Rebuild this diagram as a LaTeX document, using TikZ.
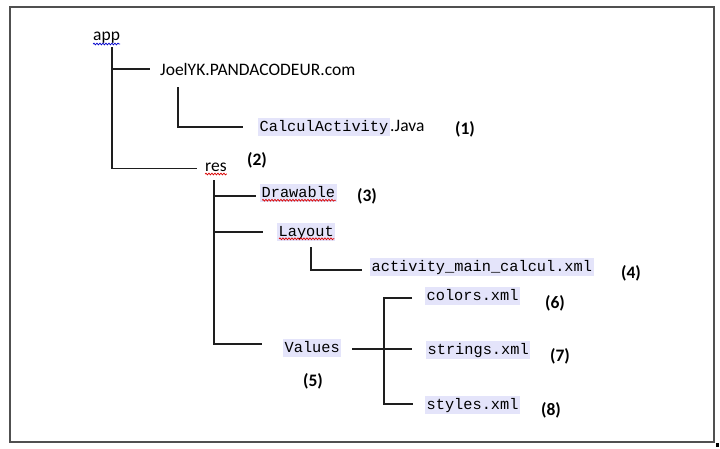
\documentclass[tikz,border=0pt]{standalone}
\usepackage{fontspec}
\setmainfont{Carlito}
\newfontfamily\monof{Liberation Mono}
\usetikzlibrary{decorations.pathmorphing}
\definecolor{hlc}{RGB}{228,228,250}
\definecolor{lnc}{RGB}{30,30,30}
\definecolor{frc}{RGB}{80,80,80}
\tikzset{
  sans/.style={inner sep=0pt,font=\fontsize{17.5}{20}\selectfont},
  num/.style={inner sep=0pt,font=\fontsize{17.5}{20}\selectfont\bfseries},
  hl/.style={fill=hlc,inner xsep=1.5pt,inner ysep=2.5pt,font=\fontsize{15.3}{18}\selectfont\monof,text depth=2pt},
  conn/.style={draw=lnc,line width=1.3pt},
  wavyred/.style={draw=red!85!black,line width=0.7pt,decorate,decoration={snake,amplitude=0.9pt,segment length=3pt}},
  wavyblue/.style={draw=blue!80!black,line width=0.7pt,decorate,decoration={snake,amplitude=0.9pt,segment length=3pt}}
}
\begin{document}
\begin{tikzpicture}[x=1pt,y=-1pt]
\useasboundingbox (0,0) rectangle (720,448);
\draw[frc,line width=1.6pt] (10,7) rectangle (714,442);
\fill[black] (715.5,443) rectangle (718.5,447);

% nodes
\node[sans,anchor=base west] (app) at (93,40) {app};
\node[sans,anchor=west] (joel) at (160,69) {JoelYK.PANDACODEUR.com};
\node[hl,anchor=west] (calc) at (258,127) {CalculActivity};
\node[sans,anchor=base west] (java) at (calc.base east) {.Java};
\node[num] (n1) at (465,129) {(1)};
\node[sans,anchor=base west] (res) at (205,171) {res};
\node[num] (n2) at (257,160) {(2)};
\node[hl,anchor=west] (drw) at (260,193) {Drawable};
\node[num] (n3) at (367,196) {(3)};
\node[hl,anchor=west] (lay) at (277,232) {Layout};
\node[hl,anchor=west] (act) at (370,267) {activity\_main\_calcul.xml};
\node[num] (n4) at (631,273) {(4)};
\node[hl,anchor=west] (val) at (283,348) {Values};
\node[num] (n5) at (313,381) {(5)};
\node[hl,anchor=west] (col) at (425,296) {colors.xml};
\node[num] (n6) at (555,303) {(6)};
\node[hl,anchor=west] (str) at (426,350) {strings.xml};
\node[num] (n7) at (560,356) {(7)};
\node[hl,anchor=west] (sty) at (425,405) {styles.xml};
\node[num] (n8) at (551,410) {(8)};

% wavy underlines
\draw[wavyblue] ([yshift=-4pt]app.base west) -- ([yshift=-4pt]app.base east);
\draw[wavyred] ([yshift=-3pt]res.base west) -- ([yshift=-3pt]res.base east);
\draw[wavyred] ([xshift=2pt,yshift=2pt]drw.south west) -- ([xshift=-1pt,yshift=2pt]drw.south east);
\draw[wavyred] ([xshift=2pt,yshift=2pt]lay.south west) -- ([xshift=-1pt,yshift=2pt]lay.south east);

% connector end points
\coordinate (appt) at (112,47);
\coordinate (joelj) at ([xshift=-10pt]joel.west);
\coordinate (resj) at ([xshift=-8pt,yshift=-2pt]res.west);
\coordinate (joelt) at (178,87);
\coordinate (calcj) at ([xshift=-15pt]calc.west);
\coordinate (rest) at (214,180);
\coordinate (drwj) at ([xshift=-4pt,yshift=-3pt]drw.west);
\coordinate (layj) at ([xshift=-14pt]lay.west);
\coordinate (valj) at ([xshift=-21pt,yshift=4pt]val.west);
\coordinate (layt) at (311,247);
\coordinate (actj) at ([xshift=-8pt,yshift=-3pt]act.west);
\coordinate (vale) at ([xshift=11pt,yshift=-1pt]val.east);
\coordinate (valt) at (384,349);
\coordinate (colj) at ([xshift=-13pt,yshift=-2pt]col.west);
\coordinate (strj) at ([xshift=-14pt]str.west |- valt);
\coordinate (styj) at ([xshift=-12pt,yshift=1pt]sty.west);

% connectors
\draw[conn] (appt) |- (resj);
\draw[conn] (appt |- joelj) -- (joelj);
\draw[conn] (joelt) |- (calcj);
\draw[conn] (rest) |- (valj);
\draw[conn] (rest |- drwj) -- (drwj);
\draw[conn] (rest |- layj) -- (layj);
\draw[conn] (layt) |- (actj);
\draw[conn] (vale) -- (valt);
\draw[conn] (colj) -| (valt |- styj) -- (styj);
\draw[conn] (valt) -- (strj);
\end{tikzpicture}
\end{document}
